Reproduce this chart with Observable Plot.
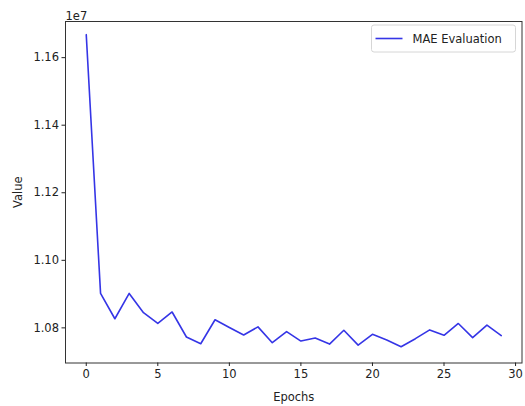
<!DOCTYPE html>
<html>
<head>
<meta charset="utf-8">
<script src="https://cdn.jsdelivr.net/npm/d3@7"></script>
<script src="https://cdn.jsdelivr.net/npm/@observablehq/plot@0.6"></script>
<style>
  html, body { margin: 0; padding: 0; background: #fff; }
  #chart { width: 525px; height: 406px; }
</style>
</head>
<body>
<div id="chart"></div>
<script>
// Data (values in absolute units; axis shows them ×1e7)
const epochs = Array.from({length: 30}, (_, i) => i);
const maeEvaluation = [
  11668000, 10902000, 10827000, 10902000, 10845000, 10813000, 10847000, 10773000,
  10753000, 10824000, 10801000, 10779000, 10803000, 10756000, 10789000, 10761000,
  10770000, 10752000, 10793000, 10749000, 10781000, 10764000, 10744000, 10768000,
  10794000, 10778000, 10813000, 10771000, 10808000, 10777000
];
const xTicks = [0, 5, 10, 15, 20, 25, 30];
const yTicks = [10800000, 11000000, 11200000, 11400000, 11600000];
const seriesName = "MAE Evaluation";
const xLabel = "Epochs";
const yLabel = "Value";
const offsetText = "1e7";

const data = epochs.map((e, i) => ({epoch: e, value: maeEvaluation[i]}));
const lineColor = "#3535e6";
const font = "DejaVu Sans, sans-serif";

const legend = (index, scales, values, dims) => {
  const g = d3.create("svg:g").attr("font-family", font).attr("font-size", 11.5);
  const x0 = dims.width - dims.marginRight - 150;
  const y0 = dims.marginTop + 4;
  g.append("rect").attr("x", x0).attr("y", y0).attr("width", 144).attr("height", 27)
    .attr("rx", 2.5).attr("fill", "white").attr("fill-opacity", 0.8)
    .attr("stroke", "#d6d6d6").attr("stroke-width", 1);
  g.append("line").attr("x1", x0 + 4).attr("x2", x0 + 31).attr("y1", y0 + 13.5).attr("y2", y0 + 13.5)
    .attr("stroke", lineColor).attr("stroke-width", 1.6);
  g.append("text").attr("x", x0 + 41).attr("y", y0 + 13.5).attr("dy", "0.35em")
    .attr("text-anchor", "start").attr("fill", "#222").text(seriesName);
  return g.node();
};

const plot = Plot.plot({
  width: 525,
  height: 406,
  marginLeft: 65,
  marginRight: 3.5,
  marginTop: 21,
  marginBottom: 43.5,
  style: {fontFamily: font, fontSize: "11.5px", color: "#222", background: "white"},
  x: {domain: [-1.45, 30.45]},
  y: {domain: [10696000, 11707000]},
  marks: [
    Plot.frame({stroke: "#333", strokeWidth: 1}),
    Plot.axisX({ticks: xTicks, tickSize: 3.5, tickPadding: 3, tickFormat: d => d3.format("d")(d),
      label: xLabel, labelAnchor: "center", labelArrow: "none", labelOffset: 38, fontSize: 11.5}),
    Plot.axisY({ticks: yTicks, tickSize: 3.5, tickPadding: 3, tickFormat: d => (d / 1e7).toFixed(2),
      label: yLabel, labelAnchor: "center", labelArrow: "none", labelOffset: 52, fontSize: 11.5}),
    Plot.line(data, {x: "epoch", y: "value", stroke: lineColor, strokeWidth: 1.6}),
    Plot.text([offsetText], {frameAnchor: "top-left", text: d => d, dy: -10, dx: 0, textAnchor: "start", fontSize: 11.5, fill: "#222"}),
    legend
  ]
});
document.getElementById("chart").appendChild(plot);
</script>
</body>
</html>
